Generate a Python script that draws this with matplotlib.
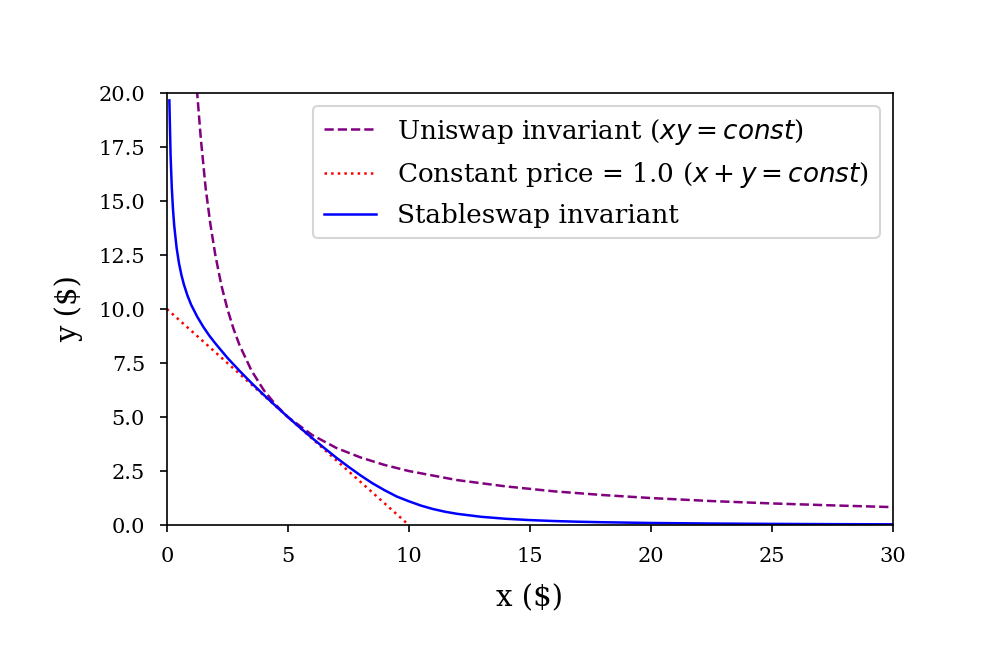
import matplotlib
matplotlib.use("Agg")
import matplotlib.pyplot as plt

# Uniswap invariant (xy = const)
uni_x = [1.2, 1.25, 1.4, 1.6, 1.8, 2.0, 2.25, 2.5, 2.75, 3.0, 3.5, 4.0, 4.5, 5.0,
         6.0, 7.0, 8.0, 9.0, 10.0, 12.0, 14.0, 16.0, 18.0, 20.0, 22.5, 25.0, 27.5, 30.0]
uni_y = [20.8, 20.0, 17.9, 15.6, 13.9, 12.5, 11.1, 10.0, 9.09, 8.33, 7.14, 6.25, 5.56, 5.0,
         4.17, 3.57, 3.13, 2.78, 2.5, 2.08, 1.79, 1.56, 1.39, 1.25, 1.11, 1.0, 0.91, 0.83]

# Constant price line
const_x = [0.0, 10.0]
const_y = [10.0, 0.0]

# Stableswap invariant
stab_x = [0.1, 0.15, 0.2, 0.25, 0.3, 0.4, 0.5, 0.6, 0.7, 0.85, 1.0, 1.25, 1.5, 1.75,
          2.0, 2.5, 3.0, 3.5, 4.0, 4.5, 5.0, 5.5, 6.0, 6.5, 7.0, 7.5, 8.0, 8.5, 9.0,
          9.5, 10.0, 10.5, 11.0, 11.5, 12.0, 13.0, 14.0, 15.0, 16.0, 17.0, 18.0,
          20.0, 22.5, 25.0, 27.5, 30.0]
stab_y = [19.66, 17.13, 15.63, 14.62, 13.87, 12.83, 12.11, 11.57, 11.14, 10.62, 10.20,
          9.65, 9.18, 8.77, 8.41, 7.74, 7.14, 6.57, 6.03, 5.51, 5.0, 4.51, 4.03, 3.57,
          3.12, 2.70, 2.30, 1.93, 1.61, 1.32, 1.10, 0.90, 0.74, 0.615, 0.518, 0.380,
          0.290, 0.229, 0.185, 0.153, 0.129, 0.095, 0.069, 0.0525, 0.041, 0.033]

labels = [r"Uniswap invariant ($xy = const$)",
          r"Constant price = 1.0 ($x + y = const$)",
          "Stableswap invariant"]

plt.rcParams["font.family"] = "DejaVu Serif"

fig = plt.figure(figsize=(982 / 150, 660 / 150), dpi=150)
ax = fig.add_axes([0.170, 0.2045, 0.739, 0.6545])

ax.plot(uni_x, uni_y, "--", color="purple", lw=1.2, label=labels[0])
ax.plot(const_x, const_y, ":", color="red", lw=1.2, label=labels[1])
ax.plot(stab_x, stab_y, "-", color="blue", lw=1.2, label=labels[2])

ax.set_xlim(0, 30)
ax.set_ylim(0, 20)
ax.set_xticks([0, 5, 10, 15, 20, 25, 30])
ax.set_yticks([0, 2.5, 5, 7.5, 10, 12.5, 15, 17.5, 20])
ax.set_yticklabels(["0.0", "2.5", "5.0", "7.5", "10.0", "12.5", "15.0", "17.5", "20.0"])
ax.tick_params(labelsize=10, pad=7)
ax.set_xlabel("x ($)", fontsize=14, labelpad=9)
ax.set_ylabel("y ($)", fontsize=14, labelpad=7)
ax.legend(loc="upper right", fontsize=12.6)

fig.savefig("out.png", dpi=150)
